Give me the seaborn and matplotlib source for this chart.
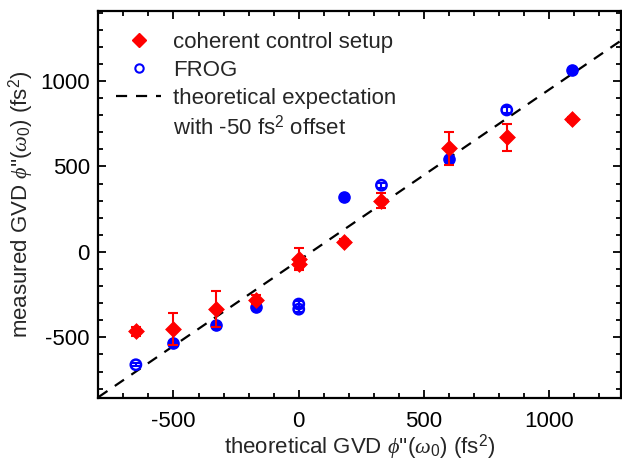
import matplotlib
matplotlib.use("Agg")
import matplotlib.pyplot as plt
import seaborn as sns
import numpy as np
import pandas as pd
from matplotlib.lines import Line2D
from matplotlib.ticker import MultipleLocator

# ---- data ----
x_cc = [-650, -500, -330, -170, 0, 0, 180, 330, 600, 830, 1090]
y_cc = [-465, -450, -335, -280, -40, -70, 60, 300, 605, 670, 775]
err_cc = [25, 95, 105, 25, 65, 30, 15, 45, 95, 80, 15]

x_frog = [-650, -500, -330, -170, 0, 0, 180, 330, 600, 830, 1090]
y_frog = [-660, -530, -425, -320, -305, -335, 320, 390, 545, 830, 1065]
err_frog = [10, 10, 10, 10, 15, 15, 5, 15, 15, 20, 5]
frog_filled = [False, True, True, True, False, False, True, False, True, False, True]

theory_x = [-800, 1300]
theory_offset = -50

x_ticks = [-500, 0, 500, 1000]
y_ticks = [-500, 0, 500, 1000]

# ---- style ----
sns.set_theme(style="ticks")
plt.rcParams['font.family'] = ['Liberation Sans', 'DejaVu Sans']
plt.rcParams['mathtext.fontset'] = 'custom'
plt.rcParams['mathtext.rm'] = 'Liberation Sans'
plt.rcParams['mathtext.it'] = 'Liberation Serif:italic'
plt.rcParams['mathtext.bf'] = 'Liberation Sans:bold'
plt.rcParams['axes.unicode_minus'] = False

FS = 16
fig = plt.figure(figsize=(6.22, 4.70), dpi=100)
ax = fig.add_axes([0.158, 0.153, 0.840, 0.824])

frog = pd.DataFrame({"x": x_frog, "y": y_frog, "err": err_frog, "filled": frog_filled})
cc = pd.DataFrame({"x": x_cc, "y": y_cc, "err": err_cc})
theory = pd.DataFrame({"x": theory_x, "y": [v + theory_offset for v in theory_x]})

# theoretical line
sns.lineplot(data=theory, x="x", y="y", ax=ax, color="black", lw=1.6,
             dashes=False, zorder=1)
ax.lines[-1].set_dashes((5, 4))

# FROG
ax.errorbar(frog["x"], frog["y"], yerr=frog["err"], fmt="none", ecolor="blue",
            elinewidth=1.5, capsize=3, capthick=1.5, zorder=2)
f_fill = frog[frog["filled"]]
f_open = frog[~frog["filled"]]
sns.scatterplot(data=f_fill, x="x", y="y", ax=ax, marker="o", s=65,
                color="blue", edgecolor="blue", linewidth=1.0, zorder=3)
sns.scatterplot(data=f_open, x="x", y="y", ax=ax, marker="o", s=55,
                facecolor="none", edgecolor="blue", linewidth=1.8, zorder=3)

# coherent control
ax.errorbar(cc["x"], cc["y"], yerr=cc["err"], fmt="none", ecolor="red",
            elinewidth=1.5, capsize=3.5, capthick=1.5, zorder=4)
sns.scatterplot(data=cc, x="x", y="y", ax=ax, marker="D", s=65,
                color="red", edgecolor="red", linewidth=0.5, zorder=5)

ax.set_xlim(-800, 1285)
ax.set_ylim(-855, 1410)
ax.set_xticks(x_ticks)
ax.set_yticks(y_ticks)
ax.xaxis.set_minor_locator(MultipleLocator(100))
ax.yaxis.set_minor_locator(MultipleLocator(100))
ax.tick_params(which="both", direction="in", top=True, right=True,
               width=1.3, labelsize=FS, colors="black")
ax.tick_params(which="major", length=6)
ax.tick_params(which="minor", length=3.5)
ax.tick_params(axis="x", which="major", pad=9)
ax.tick_params(axis="y", which="major", pad=6)
for s in ax.spines.values():
    s.set_linewidth(1.6)
    s.set_color("black")

ax.set_xlabel(r"theoretical GVD $\phi$''($\omega_0$) (fs$^2$)", fontsize=FS, labelpad=1)
ax.set_ylabel(r"measured GVD $\phi$''($\omega_0$) (fs$^2$)", fontsize=FS, labelpad=3)

handles = [
    Line2D([], [], marker="D", color="red", ls="none", markersize=7),
    Line2D([], [], marker="o", mfc="none", mec="blue", mew=1.5, ls="none", markersize=6),
    Line2D([], [], color="black", lw=1.6, dashes=(5, 4)),
    Line2D([], [], color="none", lw=0),
]
labels = ["coherent control setup", "FROG", "theoretical expectation",
          r"with -50 fs$^2$ offset"]
leg = ax.legend(handles, labels, loc="upper left", frameon=False, fontsize=FS,
                handlelength=2.0, handletextpad=0.55, labelspacing=0.3,
                borderaxespad=0.3, bbox_to_anchor=(0.005, 0.985))

fig.savefig("out.png", dpi=100)
